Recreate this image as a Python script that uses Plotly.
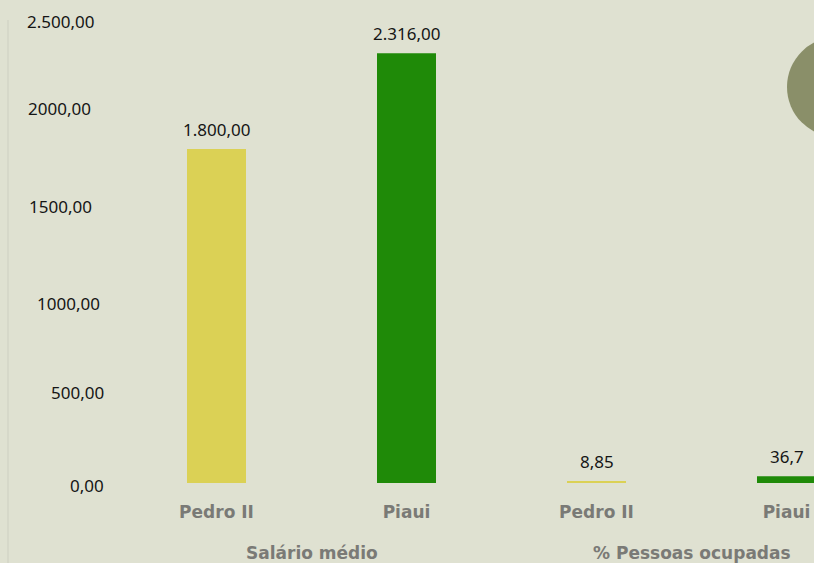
import plotly.graph_objects as go

# ---- data ----
categories = ["Pedro II", "Piaui", "Pedro II", "Piaui"]
groups = ["Salário médio", "% Pessoas ocupadas"]
values = [1800.00, 2316.00, 8.85, 36.7]
value_labels = ["1.800,00", "2.316,00", "8,85", "36,7"]
bar_colors = ["#dbd155", "#1f8a08", "#dbd155", "#1f8a08"]
ytick_vals = [2500, 2000, 1500, 1000, 500, 0]
ytick_text = ["2.500,00", "2000,00", "1500,00", "1000,00", "500,00", "0,00"]

W, H = 814, 563
T, B = 19, 80
PX_PER_CAT = 190.0
x0_px = 216.5
x_left = -x0_px / PX_PER_CAT
x_right = x_left + W / PX_PER_CAT

xpos = list(range(len(categories)))

def py2y(py):
    return (H - B - py) / (H - T - B)

VAL_FONT = dict(family="Noto Sans, Open Sans, sans-serif", size=17, color="#151515")
CAT_FONT = dict(family="DejaVu Sans, sans-serif", size=17, color="#7a7a76", weight="bold")

fig = go.Figure()
fig.add_trace(go.Bar(
    x=xpos, y=values, width=59 / PX_PER_CAT,
    marker=dict(color=bar_colors, line=dict(width=0)),
    hoverinfo="skip",
))

# value labels above bars
for xv, v, t in zip(xpos, values, value_labels):
    fig.add_annotation(x=xv, y=v, xref="x", yref="y", text=t, showarrow=False,
                       yanchor="bottom", yshift=6, font=VAL_FONT)

bg = "#dfe1d1"
fig.update_layout(
    width=W, height=H,
    margin=dict(l=0, r=0, t=T, b=B),
    paper_bgcolor=bg, plot_bgcolor=bg,
    showlegend=False,
    xaxis=dict(range=[x_left, x_right], tickvals=xpos, ticktext=categories,
               showgrid=False, zeroline=False, showline=False, ticks="",
               ticklabelstandoff=17, tickfont=CAT_FONT),
    yaxis=dict(range=[0, 2500], showgrid=False, zeroline=False, showline=False,
               showticklabels=False, ticks=""),
)

# y-axis labels (free text boxes as in the reference)
ylab_cx = [60.5, 59.5, 60, 68, 77, 87]
ylab_shift = [-2, 3, -2, -6, -2, -2]
for v, t, cx, sh in zip(ytick_vals, ytick_text, ylab_cx, ylab_shift):
    fig.add_annotation(x=cx / W, xref="paper", y=v, yref="y", text=t, showarrow=False,
                       yshift=sh, xanchor="center", yanchor="middle", font=VAL_FONT)

# group labels
for i, g in enumerate(groups):
    cx = (xpos[2 * i] + xpos[2 * i + 1]) / 2
    fig.add_annotation(x=cx, xref="x", y=py2y(553), yref="paper", text=g, showarrow=False,
                       yanchor="middle", font=CAT_FONT)

# faint left vertical line
fig.add_shape(type="line", xref="paper", yref="paper", x0=8 / W, x1=8 / W,
              y0=py2y(H), y1=py2y(20),
              line=dict(color="#d3d5c6", width=1.5), layer="below")

# decorative circle top right
cxp, cyp, r = 837, 87, 50
fig.add_shape(type="circle", xref="paper", yref="paper",
              x0=(cxp - r) / W, x1=(cxp + r) / W, y0=py2y(cyp + r), y1=py2y(cyp - r),
              fillcolor="#8a8f69", line=dict(width=0), layer="above")

fig.write_html("out.html", config={"displayModeBar": False},
               post_script="document.body.style.margin='0';document.body.style.overflow='hidden';")
